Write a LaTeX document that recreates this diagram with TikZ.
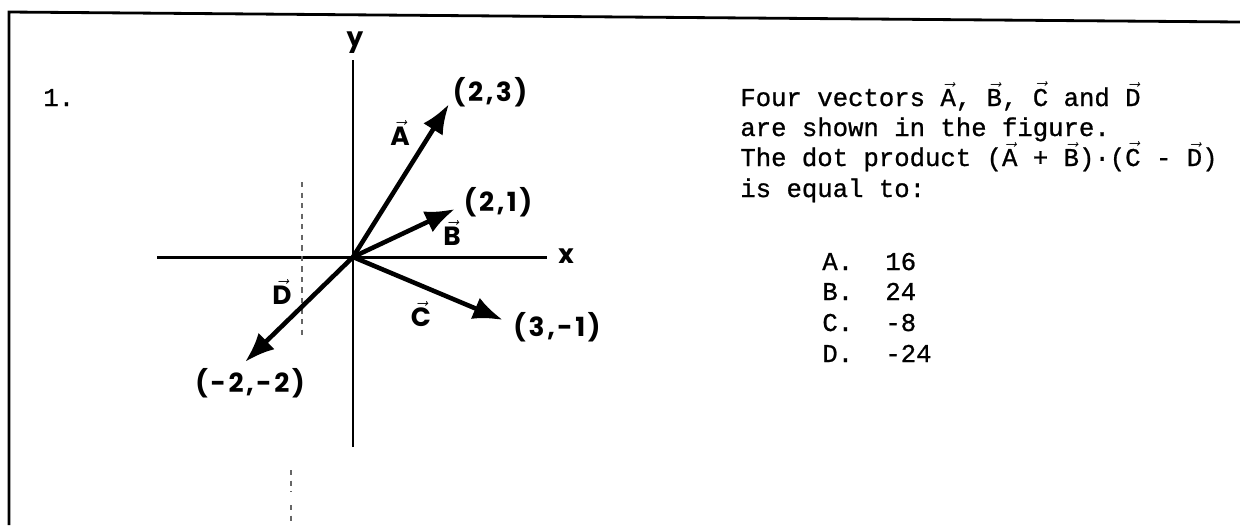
\documentclass[tikz,border=0pt]{standalone}
\usepackage{fontspec}
\newfontfamily\twfont{Liberation Mono}[UprightFeatures={FakeBold=0.9}]
\newfontfamily\lblfont{Poppins}[LetterSpace=10.0]
\usetikzlibrary{arrows.meta}
\newcommand{\vv}[1]{\ensuremath{\vec{\hbox{#1}}}}
\tikzset{
  axis/.style={
    line width=1.7pt
  },
  vect/.style={
    line width=2.6pt,
    -{Latex[length=17pt,width=13pt]}
  },
  coord/.style={
    font=\lblfont\bfseries\fontsize{15}{16}\selectfont,
    inner sep=0pt
  },
  tw/.style={
    font=\twfont\fontsize{14.6}{17}\selectfont,
    inner sep=0pt,
    anchor=base west
  },
  frame/.style={
    line width=1.6pt
  },
  scanmark/.style={
    line width=0.6pt,
    dash pattern=on 3pt off 3pt,
    black!60
  }
}

\begin{document}
\begin{tikzpicture}[x=0.02cm,y=-0.02cm]
    \useasboundingbox (0,0) rectangle (1240,525);
    \draw[frame] (1240,22) -- (9,12) -- (9,525);
    \node[tw] (num) at (43,106) {1.};

    % axes
    \coordinate (O) at (353,257);
    \coordinate (ytop) at (353,60);
    \coordinate (ybot) at (353,447);
    \coordinate (xleft) at (157,257);
    \coordinate (xright) at (547,257);
    \draw[axis] (ybot) -- (ytop);
    \draw[axis] (xleft) -- (xright);
    \node[coord] (ylab) at (355,43) {y};
    \node[coord] (xlab) at (566,256) {x};

    % faint marks of the scan
    \draw[scanmark] (302,182) -- (302,335);
    \draw[scanmark] (291,470) -- (291,492);
    \draw[scanmark] (291,505) -- (291,525);

    % vectors
    \coordinate (tipA) at (449,104);
    \coordinate (tipB) at (455,209);
    \coordinate (tipC) at (503,320);
    \coordinate (tipD) at (245,362);
    \draw[vect] (O) -- (tipA);
    \draw[vect] (O) -- (tipB);
    \draw[vect] (O) -- (tipC);
    \draw[vect] (O) -- (tipD);

    \node[coord] (labA) at (400,133) {\vv{A}};
    \node[coord] (labB) at (452,233) {\vv{B}};
    \node[coord] (labC) at (421,314) {\vv{C}};
    \node[coord] (labD) at (282,292) {\vv{D}};

    \node[coord] (ptA) at (490,92) {(2,3)};
    \node[coord] (ptB) at (498,202) {(2,1)};
    \node[coord] (ptC) at (557,327) {(3,-1)};
    \node[coord] (ptD) at (250,383) {(-2,-2)};

    % question text
    \node[tw] (l1) at (740,106) {Four vectors \vv{A}, \vv{B}, \vv{C} and \vv{D}};
    \node[tw] (l2) at (740,136) {are shown in the figure.};
    \node[tw] (l3) at (740,166) {The dot product (\vv{A} + \vv{B})·(\vv{C} - \vv{D})};
    \node[tw] (l4) at (740,197) {is equal to:};

    \foreach \lt/\val/\yy in {A/16/270, B/24/300, C/-8/331, D/-24/362}
    {
      \node[tw] (opt\lt) at (822,\yy) {\lt.};
      \node[tw] (val\lt) at (885,\yy) {\val};
    }
\end{tikzpicture}
\end{document}
